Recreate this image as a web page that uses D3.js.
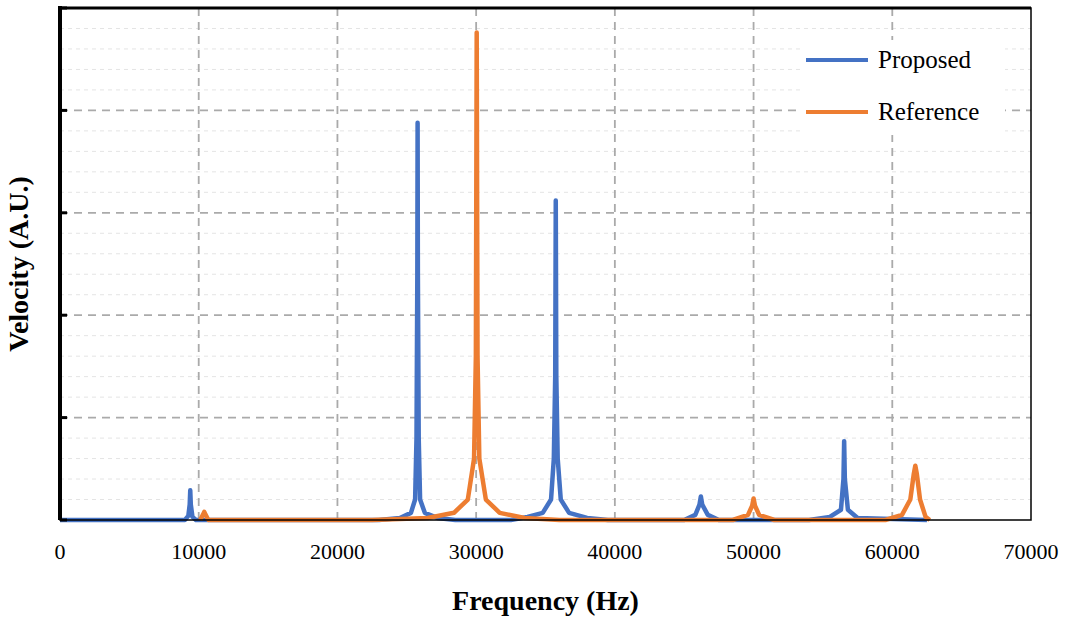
<!DOCTYPE html>
<html><head><meta charset="utf-8">
<script src="https://cdn.jsdelivr.net/npm/d3@7"></script>
<style>body{margin:0;background:#fff}svg{font-family:"Liberation Serif",serif}</style>
</head><body><div id="chart"></div>
<script>
const xTicks = [0, 10000, 20000, 30000, 40000, 50000, 60000, 70000];
const yMajor = [0, 1, 2, 3, 4, 5];
const proposed = [
  [0,0],[9000,0],[9250,0.04],[9350,0.15],[9390,0.29],[9430,0.15],[9550,0.03],[9800,0],[23000,0],[24500,0.02],[25300,0.07],[25600,0.2],[25700,0.8],[25760,2.4],[25780,3.88],[25800,2.4],[25860,0.8],[25960,0.2],[26300,0.07],[27200,0.02],[28500,0],
  [32500,0],[33700,0.03],[34800,0.07],[35400,0.2],[35600,0.6],[35700,1.4],[35740,3.12],[35780,1.4],[35880,0.6],[36100,0.2],[36700,0.07],[38000,0.02],[39500,0],
  [45000,0],[45800,0.05],[46100,0.15],[46200,0.23],[46300,0.15],[46700,0.05],[47500,0],[54000,0],[55500,0.03],[56300,0.1],[56480,0.4],[56530,0.77],[56580,0.4],[56800,0.1],[57500,0.02],[62500,0]
];
const reference = [
  [10100,0],[10300,0.05],[10400,0.08],[10500,0.05],[10700,0],[22500,0],[26500,0.02],[28400,0.07],[29400,0.2],[29850,0.6],[29980,1.6],[30040,4.76],[30100,1.6],[30230,0.6],[30700,0.2],[31700,0.07],[33500,0.02],[36000,0],
  [48500,0],[49600,0.05],[49900,0.14],[50000,0.21],[50100,0.14],[50400,0.05],[51500,0],[59500,0],[60700,0.05],[61300,0.2],[61550,0.45],[61660,0.53],[61770,0.45],[62000,0.2],[62400,0.03],[62700,0]
];
const series = [
  {name: "Proposed", color: "#4472C4", data: proposed},
  {name: "Reference", color: "#ED7D31", data: reference}
];

const svg = d3.select("#chart").append("svg").attr("width", 1080).attr("height", 623);
const x = d3.scaleLinear().domain([0, 70000]).range([60, 1031]);
const y = d3.scaleLinear().domain([0, 5]).range([520, 8]);

// minor horizontal grid
const minor = d3.range(0, 5.01, 0.2).filter(v => Math.abs(v - Math.round(v)) > 0.01);
svg.selectAll(".minor").data(minor).join("line")
  .attr("x1", x(0)).attr("x2", x(70000)).attr("y1", d => y(d)).attr("y2", d => y(d))
  .attr("stroke", "#e4e4e4").attr("stroke-width", 1).attr("stroke-dasharray", "4,4");
// major grid
svg.selectAll(".hmaj").data(yMajor.slice(1, 5)).join("line")
  .attr("x1", x(0)).attr("x2", x(70000)).attr("y1", d => y(d)).attr("y2", d => y(d))
  .attr("stroke", "#aaa").attr("stroke-width", 1.8).attr("stroke-dasharray", "8,6");
svg.selectAll(".vmaj").data(xTicks.slice(1, 7)).join("line")
  .attr("x1", d => x(d)).attr("x2", d => x(d)).attr("y1", y(5)).attr("y2", y(0))
  .attr("stroke", "#aaa").attr("stroke-width", 1.8).attr("stroke-dasharray", "8,6");

const line = d3.line().x(d => x(d[0])).y(d => y(d[1]));
series.forEach(s => {
  svg.append("path").datum(s.data).attr("d", line)
    .attr("fill", "none").attr("stroke", s.color).attr("stroke-width", 4.5).attr("stroke-linejoin", "round");
});

// frame
svg.append("rect").attr("x", x(0)).attr("y", y(5)).attr("width", x(70000) - x(0)).attr("height", y(0) - y(5))
  .attr("fill", "none").attr("stroke", "#000").attr("stroke-width", 1.5);
svg.append("line").attr("x1", x(0)).attr("x2", x(0)).attr("y1", y(5) - 2).attr("y2", y(0))
  .attr("stroke", "#000").attr("stroke-width", 4);
svg.append("line").attr("x1", x(0) - 2).attr("x2", x(70000)).attr("y1", y(5)).attr("y2", y(5))
  .attr("stroke", "#000").attr("stroke-width", 3);
svg.selectAll(".ytk").data(yMajor).join("line")
  .attr("x1", x(0)).attr("x2", x(0) + 7).attr("y1", d => y(d)).attr("y2", d => y(d))
  .attr("stroke", "#000").attr("stroke-width", 3);

svg.selectAll(".xl").data(xTicks).join("text")
  .attr("x", d => x(d)).attr("y", 559).attr("text-anchor", "middle")
  .style("font-size", "22px").text(d => d);

svg.append("text").attr("x", x(35000)).attr("y", 610).attr("text-anchor", "middle")
  .style("font-size", "28px").style("font-weight", "bold").text("Frequency (Hz)");
svg.append("text").attr("transform", `translate(28, ${y(2.5)}) rotate(-90)`).attr("text-anchor", "middle")
  .style("font-size", "28px").style("font-weight", "bold").text("Velocity (A.U.)");

// legend
svg.append("rect").attr("x", 800).attr("y", 40).attr("width", 205).attr("height", 95).attr("fill", "#fff");
series.forEach((s, i) => {
  const ly = 60 + i * 52;
  svg.append("line").attr("x1", 806).attr("x2", 868).attr("y1", ly).attr("y2", ly)
    .attr("stroke", s.color).attr("stroke-width", 4);
  svg.append("text").attr("x", 878).attr("y", ly + 8).style("font-size", "25px").text(s.name);
});
</script></body></html>
